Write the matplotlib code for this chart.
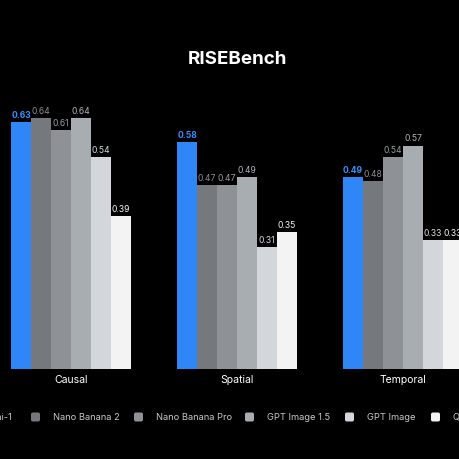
import matplotlib
matplotlib.use("Agg")
import matplotlib.pyplot as plt
from matplotlib.patches import FancyBboxPatch

categories = ["Causal", "Spatial", "Temporal"]
models = ["Uni-1", "Nano Banana 2", "Nano Banana Pro", "GPT Image 1.5", "GPT Image", "Qwen-Image"]
values = {
    "Uni-1":           [0.63, 0.58, 0.49],
    "Nano Banana 2":   [0.64, 0.47, 0.48],
    "Nano Banana Pro": [0.61, 0.47, 0.54],
    "GPT Image 1.5":   [0.64, 0.49, 0.57],
    "GPT Image":       [0.54, 0.31, 0.33],
    "Qwen-Image":      [0.39, 0.35, 0.33],
}
colors = ["#2E86F7", "#75787C", "#8E9296", "#A8ADB2", "#D3D7DC", "#F3F3F4"]
label_colors = ["#3A8DFA", "#8A8D91", "#999CA0", "#AFB3B8", "#D8DBDF", "#F3F3F4"]

plt.rcParams['font.family'] = ['Inter', 'DejaVu Sans']

W = H = 460
fig = plt.figure(figsize=(4.6, 4.6), dpi=100, facecolor="black")
# baseline at 370px from top, 392 px per unit, 20 px per bar unit
ax = fig.add_axes([0, 90 / H, 1, 370 / H])
ax.set_facecolor("black")
ax.set_xlim(-71 / 20, (W - 71) / 20)
ax.set_ylim(0, 370 / 392)
ax.axis("off")

spacing = 8.3
for j, m in enumerate(models):
    for i, cat in enumerate(categories):
        x = i * spacing + (j - 2.5)
        v = values[m][i]
        ax.bar(x, v, width=1.0, color=colors[j], linewidth=0)
        ax.text(x, v + 0.008, f"{v:.2f}", ha="center", va="bottom",
                fontsize=6.2, color=label_colors[j],
                fontweight="bold" if j == 0 else "normal")

for i, cat in enumerate(categories):
    ax.text(i * spacing, -0.012, cat, ha="center", va="top", fontsize=7.5,
            color="white", clip_on=False)

fig.text(237.5 / W, 1 - 60 / H, "RISEBench", ha="center", va="center",
         fontsize=13.5, fontweight="bold", color="white")

# legend
leg_y = 418
sq_x = [-42, 31, 134, 245, 345, 431]
for j, m in enumerate(models):
    sx = sq_x[j]
    box = FancyBboxPatch((sx / W, 1 - (leg_y + 4.5) / H), 9 / W, 9 / H,
                         boxstyle="round,pad=0,rounding_size=0.004",
                         transform=fig.transFigure, facecolor=colors[j],
                         edgecolor="none")
    fig.patches.append(box)
    if j == 0:
        fig.text(12 / W, 1 - leg_y / H, m, ha="right", va="center",
                 fontsize=6.7, color="#C8C8C8")
    else:
        fig.text((sx + 22) / W, 1 - leg_y / H, m, ha="left", va="center",
                 fontsize=6.7, color="#C8C8C8")

fig.savefig("out.png", dpi=100, facecolor="black")
